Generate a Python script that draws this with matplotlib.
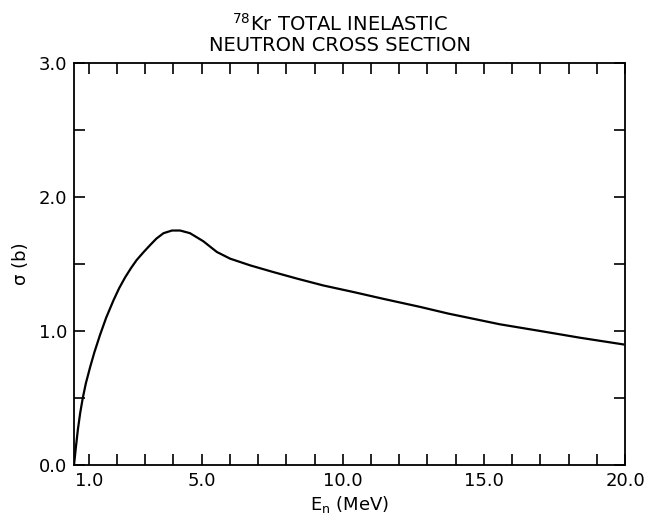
"""
78Kr total inelastic neutron cross section
"""

import matplotlib.pyplot as plt
import numpy as np

# curve (MeV, barn)
energy = [0.48, 0.55, 0.62, 0.70, 0.79, 0.90, 1.05, 1.20, 1.40, 1.62, 1.88, 2.08,
          2.29, 2.50, 2.70, 2.95, 3.17, 3.40, 3.65, 3.95, 4.24, 4.59, 5.06, 5.54,
          6.01, 6.72, 7.54, 8.40, 9.31, 10.40, 11.44, 12.74, 13.74, 15.57, 17.00,
          18.40, 19.94]
sigma = [0.00, 0.14, 0.27, 0.39, 0.50, 0.61, 0.73, 0.84, 0.97, 1.10, 1.23, 1.32,
         1.40, 1.47, 1.53, 1.59, 1.64, 1.69, 1.73, 1.75, 1.75, 1.73, 1.67, 1.59,
         1.54, 1.49, 1.44, 1.39, 1.34, 1.29, 1.24, 1.18, 1.13, 1.05, 1.00,
         0.95, 0.90]

x_major = [1.0, 5.0, 10.0, 15.0, 20.0]
x_minor = np.arange(1, 20)
y_major = [0.0, 1.0, 2.0, 3.0]
y_minor = [0.5, 1.5, 2.5]

fig = plt.figure(figsize=(6.47, 5.21), dpi=100)
ax = fig.add_axes([0.1144, 0.1075, 0.8516, 0.7715])

ax.plot(energy, sigma, color='black', lw=1.6)

ax.set_xlim(0.48, 20.0)
ax.set_ylim(0.0, 3.0)

ax.set_xticks(x_major)
ax.set_xticklabels([f'{v:.1f}' for v in x_major])
ax.set_xticks(x_minor, minor=True)
ax.set_yticks(y_major)
ax.set_yticklabels([f'{v:.1f}' for v in y_major])
ax.set_yticks(y_minor, minor=True)

ax.tick_params(which='both', direction='in', top=True, right=True,
               width=1.2, length=8, labelsize=13, pad=5)
for s in ax.spines.values():
    s.set_linewidth(1.3)

ax.set_xlabel('E$_\\mathregular{n}$ (MeV)', fontsize=13, labelpad=3)
ax.set_ylabel('σ (b)', fontsize=13, labelpad=6)

fig.text(0.525, 0.955, '$^{\\mathregular{78}}$Kr TOTAL INELASTIC', ha='center',
         va='center', fontsize=14)
fig.text(0.525, 0.913, 'NEUTRON CROSS SECTION', ha='center', va='center', fontsize=14)

plt.savefig('out.png', dpi=100, facecolor='white')
plt.close()
